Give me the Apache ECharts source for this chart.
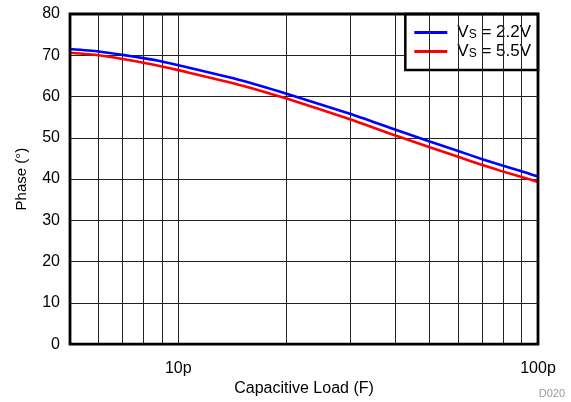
<!DOCTYPE html>
<html>
<head>
<meta charset="utf-8">
<script src="https://cdn.jsdelivr.net/npm/echarts@6/dist/echarts.min.js"></script>
<style>html,body{margin:0;padding:0;background:#fff}#c{width:571px;height:402px}</style>
</head>
<body>
<div id="c"></div>
<script>
// Capacitive load in pF
var capLoad = [5, 6, 7, 8, 9, 10, 15, 20, 30, 40, 50, 60, 70, 80, 90, 100];
var phase22 = [71.5, 70.9, 70.1, 69.3, 68.5, 67.6, 63.9, 60.7, 55.8, 52.0, 49.1, 46.8, 44.8, 43.2, 41.9, 40.6];
var phase55 = [70.6, 70.0, 69.1, 68.2, 67.3, 66.4, 62.7, 59.5, 54.5, 50.6, 47.7, 45.4, 43.4, 41.8, 40.5, 39.3];
var seriesNames = ['VS = 2.2V', 'VS = 5.5V'];
var xGridValues = [6, 7, 8, 9, 10, 20, 30, 40, 50, 60, 70, 80, 90];
var xTickLabels = {10: '10p', 100: '100p'};
var yTicks = [0, 10, 20, 30, 40, 50, 60, 70, 80];

function pairs(xs, ys) { return xs.map(function (x, i) { return [x, ys[i]]; }); }

var font = 'Liberation Sans, Arial, Helvetica, sans-serif';
var chart = echarts.init(document.getElementById('c'), null, {renderer: 'canvas'});
chart.setOption({
  animation: false,
  backgroundColor: '#fff',
  textStyle: {fontFamily: font},
  grid: {left: 70, right: 33, top: 14, bottom: 56, show: true, borderColor: '#000', borderWidth: 2.8, backgroundColor: 'transparent', z: 10},
  xAxis: {
    type: 'log', logBase: 10, min: 5, max: 100,
    name: 'Capacitive Load (F)', nameLocation: 'middle', nameGap: 34,
    nameTextStyle: {fontSize: 16, color: '#000', fontFamily: font},
    axisLine: {show: false}, axisTick: {show: false},
    splitLine: {show: false},
    axisLabel: {
      fontSize: 16, color: '#000', margin: 16, fontFamily: font,
      showMinLabel: false,
      formatter: function (v) { return xTickLabels[Math.round(v)] || ''; }
    }
  },
  yAxis: {
    type: 'value', min: yTicks[0], max: yTicks[yTicks.length - 1], interval: 10,
    name: 'Phase (°)', nameLocation: 'middle', nameGap: 41, nameRotate: 90,
    nameTextStyle: {fontSize: 15, color: '#000', fontFamily: font},
    axisLine: {show: false}, axisTick: {show: false},
    axisLabel: {fontSize: 16, color: '#000', margin: 10, fontFamily: font},
    splitLine: {show: true, lineStyle: {color: '#222', width: 1}}
  },
  legend: {
    orient: 'vertical', right: 33, top: 14,
    padding: [10, 7, 10, 9], itemGap: 2,
    itemWidth: 33, itemHeight: 3, icon: 'rect',
    borderColor: '#000', borderWidth: 2.5, backgroundColor: '#fff',
    data: seriesNames,
    formatter: function (n) {
      return '{g|}{v|V}{s|S}{v|' + n.slice(2) + '}';
    },
    textStyle: {
      fontFamily: font, color: '#000',
      rich: {
        g: {width: 5, lineHeight: 17},
        v: {fontSize: 17, lineHeight: 17, fontFamily: font, color: '#000'},
        s: {fontSize: 12, lineHeight: 9, verticalAlign: 'bottom', fontFamily: font, color: '#000'}
      }
    }
  },
  graphic: [{
    type: 'text', right: 6, bottom: 3,
    style: {text: 'D020', fontSize: 11, fill: '#999', fontFamily: font}
  }],
  series: [
    {
      name: seriesNames[0], type: 'line', smooth: 0.2, showSymbol: false, symbol: 'none',
      data: pairs(capLoad, phase22), lineStyle: {color: '#0000ff', width: 2.6}, itemStyle: {color: '#0000ff'}, z: 5,
      markLine: {
        silent: true, symbol: 'none', label: {show: false},
        lineStyle: {color: '#222', width: 1, type: 'solid'},
        data: xGridValues.map(function (v) { return {xAxis: v}; })
      }
    },
    {
      name: seriesNames[1], type: 'line', smooth: 0.2, showSymbol: false, symbol: 'none',
      data: pairs(capLoad, phase55), lineStyle: {color: '#ff0000', width: 2.6}, itemStyle: {color: '#ff0000'}, z: 6
    }
  ]
});
</script>
</body>
</html>
